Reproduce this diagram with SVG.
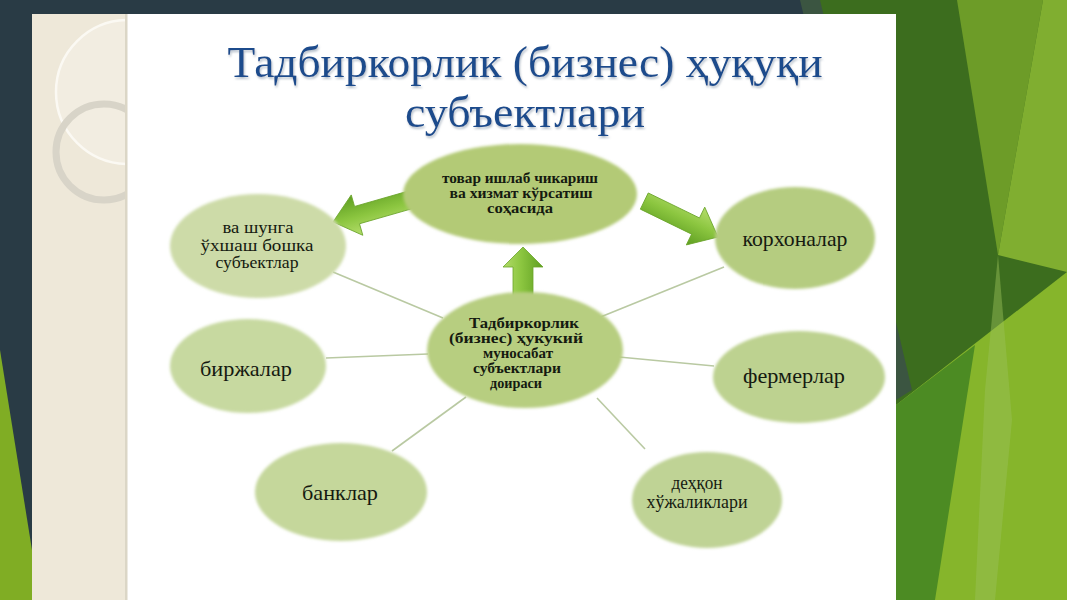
<svg xmlns="http://www.w3.org/2000/svg" width="1067" height="600" viewBox="0 0 1067 600">
<defs>
<style>
.node{filter:url(#soft)}
.lbl{font-family:"Liberation Serif","Times New Roman",serif;fill:#151a10;text-anchor:middle}
.big{font-size:21px}
.mid{font-size:18px}
.mid2{font-size:16px}
.sm{font-size:15px;font-weight:bold}
.edge{stroke:#b9c9a2;stroke-width:1.6;fill:none}
.arrow{fill:url(#ag);stroke:#6aa42a;stroke-width:0.8}
.title{font-family:"Liberation Serif","Times New Roman",serif;font-size:45px;fill:#1d4c8c;text-anchor:middle;filter:url(#tsh)}
</style>
<filter id="soft" x="-10%" y="-10%" width="120%" height="120%"><feGaussianBlur stdDeviation="1.6"/></filter>
<filter id="tsh" x="-5%" y="-20%" width="110%" height="150%"><feDropShadow dx="1" dy="2" stdDeviation="1.2" flood-color="#8796a8" flood-opacity="0.6"/></filter>
<linearGradient id="ag" gradientUnits="userSpaceOnUse" x1="0" y1="-20" x2="0" y2="20">
<stop offset="0" stop-color="#b3dc6a"/>
<stop offset="0.45" stop-color="#8cc640"/>
<stop offset="1" stop-color="#5f9f22"/>
</linearGradient>
</defs>

<!-- background -->
<rect x="0" y="0" width="1067" height="600" fill="#293b45"/>
<polygon points="0,350 40,600 0,600" fill="#80ad24"/>
<rect x="820" y="0" width="247" height="600" fill="#3c6d1e"/>
<polygon points="800,0 820,0 912,390 896,400" fill="#3b5541"/>
<polygon points="957,0 1043,0 998,255" fill="#6d9c28"/>
<polygon points="1043,0 1067,0 1067,272 998,255" fill="#80ae30"/>
<polygon points="896,405 1067,272 1067,600 896,600" fill="#86b52b"/>
<polygon points="896,405 975,345 935,600 896,600" fill="#4c8b23"/>
<polygon points="998,255 1012,420 995,600 975,600 985,390" fill="#9cc25a" opacity="0.45"/>

<!-- slide -->
<rect x="32" y="14" width="864" height="586" fill="#ffffff"/>
<rect x="32" y="14" width="95" height="586" fill="#eee8d9"/>
<clipPath id="strip"><rect x="32" y="14" width="94" height="586"/></clipPath>
<g clip-path="url(#strip)">
<circle cx="128" cy="92" r="72" fill="#f2ede1" stroke="#fbf9f3" stroke-width="2.5"/>
<circle cx="104" cy="152" r="48" fill="none" stroke="#d8d4c8" stroke-width="7"/>
</g>
<rect x="125" y="14" width="2.5" height="586" fill="#dbd6c6"/>

<!-- title -->
<text class="title" x="525" y="77" textLength="595" lengthAdjust="spacingAndGlyphs">Тадбиркорлик (бизнес) ҳуқуқи</text>
<text class="title" x="525" y="127" textLength="240" lengthAdjust="spacingAndGlyphs">субъектлари</text>

<!-- connectors -->
<g id="connectors">
<line class="edge" x1="443" y1="318" x2="333" y2="272"/>
<line class="edge" x1="428" y1="354" x2="326" y2="358"/>
<line class="edge" x1="466" y1="397" x2="392" y2="451"/>
<line class="edge" x1="598" y1="318" x2="724" y2="267"/>
<line class="edge" x1="619" y1="357" x2="714" y2="366"/>
<line class="edge" x1="597" y1="398" x2="645" y2="449"/>
<path class="arrow" transform="translate(333,222) rotate(164)" d="M0,0 L-25,-21 L-25,-9 L-80,-9 L-80,9 L-25,9 L-25,21 Z"/>
<path class="arrow" transform="translate(718,237) rotate(26)" d="M0,0 L-25,-21 L-25,-9 L-82,-9 L-82,9 L-25,9 L-25,21 Z"/>
<path class="arrow" transform="translate(523,247) rotate(-90)" d="M0,0 L-20,-20 L-20,-10 L-51,-10 L-51,10 L-20,10 L-20,20 Z"/>
</g>

<!-- nodes -->
<g id="node-top">
<ellipse class="node" cx="520" cy="194" rx="117" ry="50" fill="#b3ca76"/>
<text class="lbl sm" x="520" y="183" textLength="156" lengthAdjust="spacingAndGlyphs">товар ишлаб чикариш</text>
<text class="lbl sm" x="521" y="198" textLength="143" lengthAdjust="spacingAndGlyphs">ва хизмат кўрсатиш</text>
<text class="lbl sm" x="520" y="213" textLength="66" lengthAdjust="spacingAndGlyphs">соҳасида</text>
</g>

<g id="node-other">
<ellipse class="node" cx="258" cy="246" rx="88" ry="52" fill="#cddba8"/>
<text class="lbl mid2" x="258" y="233" textLength="71" lengthAdjust="spacingAndGlyphs">ва шунга</text>
<text class="lbl mid2" x="257" y="251" textLength="113" lengthAdjust="spacingAndGlyphs">ўхшаш бошка</text>
<text class="lbl mid2" x="257" y="268" textLength="83" lengthAdjust="spacingAndGlyphs">субъектлар</text>
</g>

<g id="node-korxona">
<ellipse class="node" cx="795" cy="238" rx="80" ry="51" fill="#b5cc80"/>
<text class="lbl big" x="795" y="246" textLength="105" lengthAdjust="spacingAndGlyphs">корхоналар</text>
</g>

<g id="node-center">
<ellipse class="node" cx="525" cy="350" rx="98" ry="58" fill="#b7ce80"/>
<text class="lbl sm" x="524" y="328" textLength="110" lengthAdjust="spacingAndGlyphs">Тадбиркорлик</text>
<text class="lbl sm" x="516" y="343" textLength="134" lengthAdjust="spacingAndGlyphs">(бизнес) ҳукукий</text>
<text class="lbl sm" x="518" y="358" textLength="70" lengthAdjust="spacingAndGlyphs">муносабат</text>
<text class="lbl sm" x="517" y="373" textLength="88" lengthAdjust="spacingAndGlyphs">субъектлари</text>
<text class="lbl sm" x="516" y="388" textLength="52" lengthAdjust="spacingAndGlyphs">доираси</text>
</g>

<g id="node-birja">
<ellipse class="node" cx="248" cy="366" rx="78" ry="47" fill="#c7d9a0"/>
<text class="lbl big" x="246" y="376" textLength="92" lengthAdjust="spacingAndGlyphs">биржалар</text>
</g>

<g id="node-fermer">
<ellipse class="node" cx="799" cy="377" rx="86" ry="46" fill="#bdd290"/>
<text class="lbl big" x="794" y="383" textLength="102" lengthAdjust="spacingAndGlyphs">фермерлар</text>
</g>

<g id="node-bank">
<ellipse class="node" cx="341" cy="492" rx="86" ry="49" fill="#c5d79b"/>
<text class="lbl big" x="340" y="500" textLength="76" lengthAdjust="spacingAndGlyphs">банклар</text>
</g>

<g id="node-dehqon">
<ellipse class="node" cx="707" cy="500" rx="75" ry="48" fill="#bfd395"/>
<text class="lbl mid" x="697" y="489" textLength="51" lengthAdjust="spacingAndGlyphs">деҳқон</text>
<text class="lbl mid" x="697" y="508" textLength="101" lengthAdjust="spacingAndGlyphs">хўжаликлари</text>
</g>
</svg>
